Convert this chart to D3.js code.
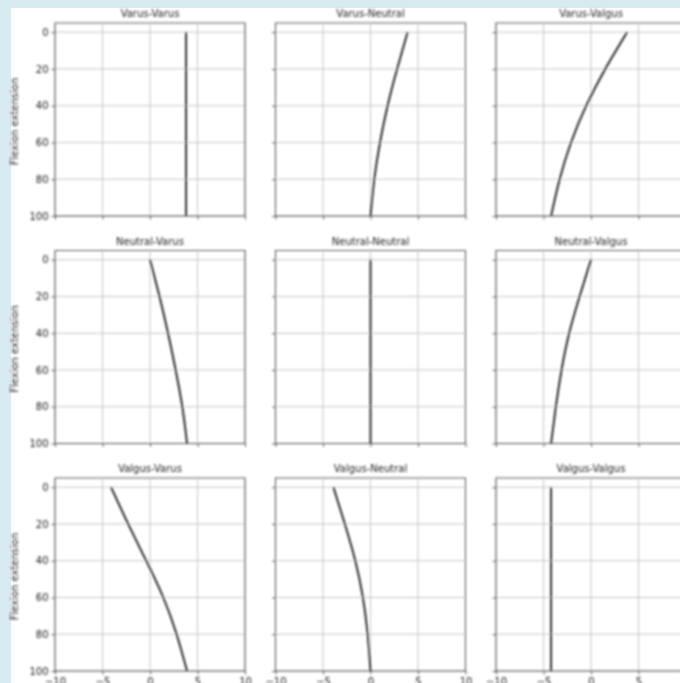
<!DOCTYPE html>
<meta charset="utf-8">
<script src="https://cdn.jsdelivr.net/npm/d3@7"></script>
<style>
  body { margin: 0; background: #d7ebf1; }
  text { font-family: "DejaVu Sans", sans-serif; fill: #222; }
  .grid line { stroke: #b8b8b8; stroke-width: 0.8px; }
  .curve { fill: none; stroke: #1a1a1a; stroke-width: 1.8px; }
</style>
<body>
<script>
  // flexion angle (y axis) where values were read
  var flexion = [0, 20, 40, 60, 80, 100];

  var titles = [
    "Varus-Varus", "Varus-Neutral", "Varus-Valgus",
    "Neutral-Varus", "Neutral-Neutral", "Neutral-Valgus",
    "Valgus-Varus", "Valgus-Neutral", "Valgus-Valgus"
  ];

  var varusVarus     = [3.8, 3.8, 3.8, 3.8, 3.8, 3.8];
  var varusNeutral   = [3.9, 2.8, 1.8, 1.0, 0.4, 0.0];
  var varusValgus    = [3.8, 1.5, -0.5, -2.1, -3.3, -4.2];
  var neutralVarus   = [0.0, 1.0, 1.9, 2.7, 3.4, 3.9];
  var neutralNeutral = [0.0, 0.0, 0.0, 0.0, 0.0, 0.0];
  var neutralValgus  = [0.0, -1.2, -2.3, -3.1, -3.7, -4.2];
  var valgusVarus    = [-4.1, -2.3, -0.4, 1.4, 2.8, 3.9];
  var valgusNeutral  = [-3.9, -2.7, -1.6, -0.8, -0.3, 0.0];
  var valgusValgus   = [-4.2, -4.2, -4.2, -4.2, -4.2, -4.2];

  var series = [varusVarus, varusNeutral, varusValgus,
                neutralVarus, neutralNeutral, neutralValgus,
                valgusVarus, valgusNeutral, valgusValgus];

  var xTicks = [-10, -5, 0, 5, 10];
  var yTicks = [0, 20, 40, 60, 80, 100];

  var width = 680, height = 683;
  var marginL = 55, marginT = 23, pw = 190, ph = 193, gapX = 30.5, gapY = 34.5;

  var svg = d3.select("body").append("svg")
    .attr("width", width)
    .attr("height", height);

  svg.append("defs").append("filter")
    .attr("id", "soft")
    .append("feGaussianBlur")
    .attr("stdDeviation", 0.8);

  svg.append("rect")
    .attr("width", width).attr("height", height)
    .attr("fill", "#d7ebf1");
  svg.append("rect")
    .attr("x", 11).attr("y", 8)
    .attr("width", width - 11).attr("height", height - 8)
    .attr("fill", "#fff");

  var root = svg.append("g").attr("filter", "url(#soft)");

  var x = d3.scaleLinear().domain([-10, 10]).range([0, pw]);
  var y = d3.scaleLinear().domain([-5, 100]).range([0, ph]);

  var line = d3.line()
    .x(function (d) { return x(d[0]); })
    .y(function (d) { return y(d[1]); })
    .curve(d3.curveNatural);

  series.forEach(function (vals, i) {
    var row = Math.floor(i / 3), col = i % 3;
    var g = root.append("g")
      .attr("transform", "translate(" + (marginL + col * (pw + gapX)) + "," + (marginT + row * (ph + gapY)) + ")");

    // grid
    var grid = g.append("g").attr("class", "grid");
    grid.selectAll(".gx").data(xTicks).enter().append("line")
      .attr("x1", x).attr("x2", x).attr("y1", 0).attr("y2", ph);
    grid.selectAll(".gy").data(yTicks).enter().append("line")
      .attr("y1", y).attr("y2", y).attr("x1", 0).attr("x2", pw);

    // axes
    var xa = d3.axisBottom(x).tickValues(xTicks).tickSize(3.5).tickPadding(3)
      .tickFormat(row == 2 ? d3.format("d") : "");
    var ya = d3.axisLeft(y).tickValues(yTicks).tickSize(3.5).tickPadding(3)
      .tickFormat(col == 0 ? d3.format("d") : "");
    var gx = g.append("g").attr("transform", "translate(0," + ph + ")").call(xa);
    var gy = g.append("g").call(ya);
    [gx, gy].forEach(function (a) {
      a.select(".domain").remove();
      a.selectAll("line").attr("stroke", "#333").attr("stroke-width", 0.8);
      a.selectAll("text").attr("font-size", 10).attr("fill", "#222")
        .style("font-family", "DejaVu Sans, sans-serif");
    });

    g.append("rect")
      .attr("width", pw).attr("height", ph)
      .attr("fill", "none").attr("stroke", "#333").attr("stroke-width", 0.8);

    var pts = flexion.map(function (f, k) { return [vals[k], f]; });
    g.append("path").datum(pts).attr("class", "curve").attr("d", line);

    g.append("text")
      .attr("x", pw / 2).attr("y", -6)
      .attr("text-anchor", "middle")
      .attr("font-size", 10)
      .text(titles[i]);

    if (col == 0) {
      g.append("text")
        .attr("transform", "translate(" + (-37) + "," + (ph / 2 + 2) + ") rotate(-90)")
        .attr("text-anchor", "middle")
        .attr("font-size", 10)
        .text("Flexion extension");
    }
  });
</script>
</body>
